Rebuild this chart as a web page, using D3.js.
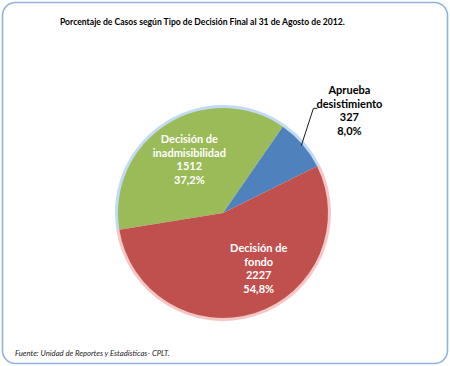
<!DOCTYPE html>
<html><head><meta charset="utf-8">
<script src="https://cdn.jsdelivr.net/npm/d3@7"></script>
<style>html,body{margin:0;padding:0;background:#fff;}svg{display:block;}</style>
</head><body>
<script>
const categories = ["Decisión de inadmisibilidad", "Aprueba desistimiento", "Decisión de fondo"];
const labelLines = [["Decisión de", "inadmisibilidad"], ["Aprueba", "desistimiento"], ["Decisión de", "fondo"]];
const values = [1512, 327, 2227];
const percentLabels = ["37,2%", "8,0%", "54,8%"];
const colors = ["#9BBB59", "#4F81BD", "#C0504D"];
const haloColors = ["#b9d3f2", "#b9d3f2", "#f3bcbc"];
const title = "Porcentaje de Casos según Tipo de Decisión Final al 31 de Agosto de 2012.";
const source = "Fuente: Unidad de Reportes y Estadísticas- CPLT.";

const W = 450, H = 366;
const cx = 223, cy = 213, R = 105;
const startDeg = -99.2;

const svg = d3.select("body").append("svg").attr("width", W).attr("height", H);
const font = "Lato, 'Open Sans', sans-serif";

svg.append("rect").attr("x", 2.5).attr("y", 2.5).attr("width", W - 5).attr("height", H - 5)
  .attr("rx", 13).attr("ry", 13).attr("fill", "#fff").attr("stroke", "#8fb3de").attr("stroke-width", 1.6);

svg.append("text").attr("x", 60).attr("y", 25).attr("font-family", font).attr("font-weight", "bold")
  .attr("font-size", 8.6).attr("fill", "#000").text(title);

svg.append("text").attr("x", 15).attr("y", 356).attr("font-family", font).attr("font-style", "italic")
  .attr("font-size", 7.7).attr("fill", "#222").text(source);

const pie = d3.pie().sort(null).value(d => d)
  .startAngle(startDeg * Math.PI / 180).endAngle(startDeg * Math.PI / 180 + 2 * Math.PI);
const arcs = pie(values);

const g = svg.append("g").attr("transform", `translate(${cx},${cy})`);
const halo = d3.arc().innerRadius(R - 1).outerRadius(R + 3);
const arc = d3.arc().innerRadius(0).outerRadius(R);

g.selectAll("path.halo").data(arcs).join("path").attr("class", "halo")
  .attr("d", halo).attr("fill", (d, i) => haloColors[i]).attr("opacity", 0.85);
g.selectAll("path.slice").data(arcs).join("path").attr("class", "slice")
  .attr("d", arc).attr("fill", (d, i) => colors[i]);

const labelAngleShift = [0, 0, -0.26];
const labelRadius = [0.6 * R, 0, 0.63 * R];
const lineH = 13.5;
arcs.forEach((d, i) => {
  const lines = labelLines[i].concat([String(values[i]), percentLabels[i]]);
  let x, y, fill;
  if (i === 1) {
    const mid = (d.startAngle + d.endAngle) / 2;
    const edge = [Math.sin(mid) * R, -Math.cos(mid) * R];
    x = edge[0] + 47; y = edge[1] - 34;
    fill = "#000";
    g.append("path").attr("d", d3.line()([[edge[0] - 1, edge[1] + 1], [edge[0] + 11, edge[1] - 36], [edge[0] + 15, edge[1] - 36]]))
      .attr("fill", "none").attr("stroke", "#000").attr("stroke-width", 0.9);
  } else {
    const mid = (d.startAngle + d.endAngle) / 2 + labelAngleShift[i];
    x = Math.sin(mid) * labelRadius[i];
    y = -Math.cos(mid) * labelRadius[i];
    fill = "#fff";
  }
  const t = g.append("text").attr("font-family", font).attr("font-weight", "bold")
    .attr("font-size", 11).attr("fill", fill).attr("text-anchor", "middle");
  lines.forEach((s, k) => {
    t.append("tspan").attr("x", x).attr("y", y + (k - (lines.length - 1) / 2) * lineH + 4).text(s);
  });
});
</script>
</body></html>
